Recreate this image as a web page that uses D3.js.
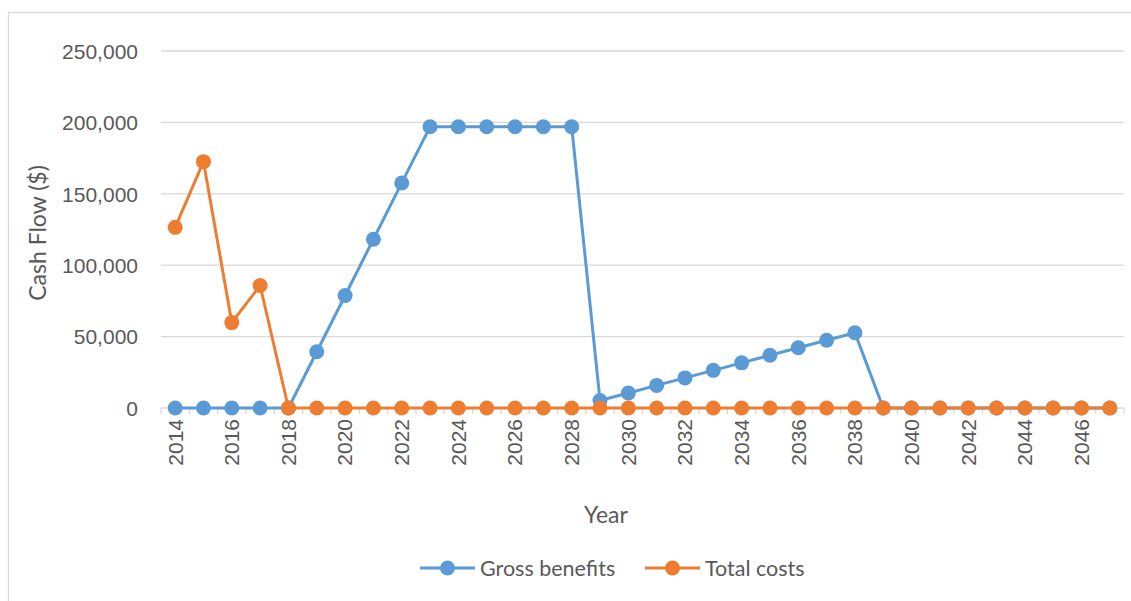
<!DOCTYPE html>
<html lang="en">
  <head>
    <meta charset="UTF-8" />
    <title>Cash Flow</title>
    <script src="https://d3js.org/d3.v7.min.js"></script>
    <style>
      body {
        margin: 0;
        background: #fff;
        font-family: "Lato", "Open Sans", sans-serif;
      }
      .tick text {
        fill: #595959;
        font-size: 21px;
      }
      .grid line {
        stroke: #d9d9d9;
        stroke-width: 1.3px;
      }
      .title {
        fill: #595959;
        font-size: 23px;
      }
      .legend text {
        fill: #595959;
        font-size: 21.5px;
      }
    </style>
  </head>
  <body>
    <svg width="1131" height="601"></svg>
    <script>
      const years = d3.range(2014, 2048);
      const grossBenefits = [
        0, 0, 0, 0, 0, 39400, 78800, 118200, 157600, 197000, 197000, 197000,
        197000, 197000, 197000, 5270, 10540, 15810, 21080, 26350, 31620, 36890,
        42160, 47430, 52700, 0, 0, 0, 0, 0, 0, 0, 0, 0,
      ];
      const totalCosts = [
        126500, 172500, 59800, 85800, 0, 0, 0, 0, 0, 0, 0, 0, 0, 0, 0, 0, 0, 0,
        0, 0, 0, 0, 0, 0, 0, 0, 0, 0, 0, 0, 0, 0, 0, 0,
      ];
      const yTicks = [0, 50000, 100000, 150000, 200000, 250000];
      const series = [
        { name: "Gross benefits", values: grossBenefits, color: "#5b9bd5" },
        { name: "Total costs", values: totalCosts, color: "#ed7d31" },
      ];

      const svg = d3.select("svg");

      // chart frame (right and bottom edges fall outside the picture)
      svg
        .append("rect")
        .attr("x", 8.5)
        .attr("y", 12.5)
        .attr("width", 1140)
        .attr("height", 600)
        .attr("fill", "none")
        .attr("stroke", "#d9d9d9")
        .attr("stroke-width", 1.3);

      const plotLeft = 161,
        plotRight = 1124,
        plotTop = 51,
        plotBottom = 408;

      const x = d3.scaleBand().domain(years).range([plotLeft, plotRight]).padding(0);
      const y = d3.scaleLinear().domain([0, 250000]).range([plotBottom, plotTop]);
      const cx = (yr) => x(yr) + x.bandwidth() / 2;

      // gridlines
      svg
        .append("g")
        .attr("class", "grid")
        .selectAll("line")
        .data(yTicks.slice(1))
        .join("line")
        .attr("x1", plotLeft)
        .attr("x2", plotRight)
        .attr("y1", (d) => y(d))
        .attr("y2", (d) => y(d));

      // y axis labels
      const yAxis = svg
        .append("g")
        .attr("transform", `translate(${plotLeft - 23},0)`)
        .call(
          d3
            .axisLeft(y)
            .tickValues(yTicks)
            .tickSize(0)
            .tickFormat(d3.format(","))
        );
      yAxis.select(".domain").remove();
      yAxis.selectAll("text").attr("x", 0).attr("dy", "0.35em");

      // x axis line and ticks at category boundaries
      const xg = svg.append("g");
      xg.append("line")
        .attr("x1", plotLeft)
        .attr("x2", plotRight)
        .attr("y1", plotBottom)
        .attr("y2", plotBottom)
        .attr("stroke", "#d9d9d9")
        .attr("stroke-width", 1.3);
      xg.selectAll("line.tk")
        .data(years.concat([2048]))
        .join("line")
        .attr("class", "tk")
        .attr("x1", (d) => (d === 2048 ? plotRight : x(d)))
        .attr("x2", (d) => (d === 2048 ? plotRight : x(d)))
        .attr("y1", plotBottom)
        .attr("y2", plotBottom + 6)
        .attr("stroke", "#d9d9d9")
        .attr("stroke-width", 1.3);

      const xAxis = svg
        .append("g")
        .attr("transform", `translate(0,${plotBottom})`)
        .call(
          d3
            .axisBottom(x)
            .tickValues(years.filter((d) => (d - 2014) % 2 === 0))
            .tickSize(0)
        );
      xAxis.select(".domain").remove();
      xAxis
        .selectAll("text")
        .attr("transform", "rotate(-90)")
        .attr("text-anchor", "end")
        .attr("x", -11)
        .attr("y", 0)
        .attr("dy", "0.35em");

      // axis titles
      svg
        .append("text")
        .attr("class", "title")
        .attr("transform", "translate(46,233) rotate(-90)")
        .attr("text-anchor", "middle")
        .text("Cash Flow ($)");
      svg
        .append("text")
        .attr("class", "title")
        .attr("x", 606)
        .attr("y", 523)
        .attr("text-anchor", "middle")
        .text("Year");

      // series
      const line = d3
        .line()
        .x((d, i) => cx(years[i]))
        .y((d) => y(d));

      series.forEach((s) => {
        const g = svg.append("g");
        g.append("path")
          .datum(s.values)
          .attr("d", line)
          .attr("fill", "none")
          .attr("stroke", s.color)
          .attr("stroke-width", 3)
          .attr("stroke-linejoin", "round");
        g.selectAll("circle")
          .data(s.values)
          .join("circle")
          .attr("cx", (d, i) => cx(years[i]))
          .attr("cy", (d) => y(d))
          .attr("r", 7.5)
          .attr("fill", s.color);
      });

      // legend
      const legendPos = [420, 645];
      const legend = svg
        .append("g")
        .attr("class", "legend")
        .selectAll("g")
        .data(series)
        .join("g")
        .attr("transform", (d, i) => `translate(${legendPos[i]},568)`);
      legend
        .append("line")
        .attr("x1", 0)
        .attr("x2", 55)
        .attr("stroke", (d) => d.color)
        .attr("stroke-width", 3);
      legend
        .append("circle")
        .attr("cx", 27.5)
        .attr("r", 7.5)
        .attr("fill", (d) => d.color);
      legend
        .append("text")
        .attr("x", 60)
        .attr("dy", "0.35em")
        .text((d) => d.name);
    </script>
  </body>
</html>
